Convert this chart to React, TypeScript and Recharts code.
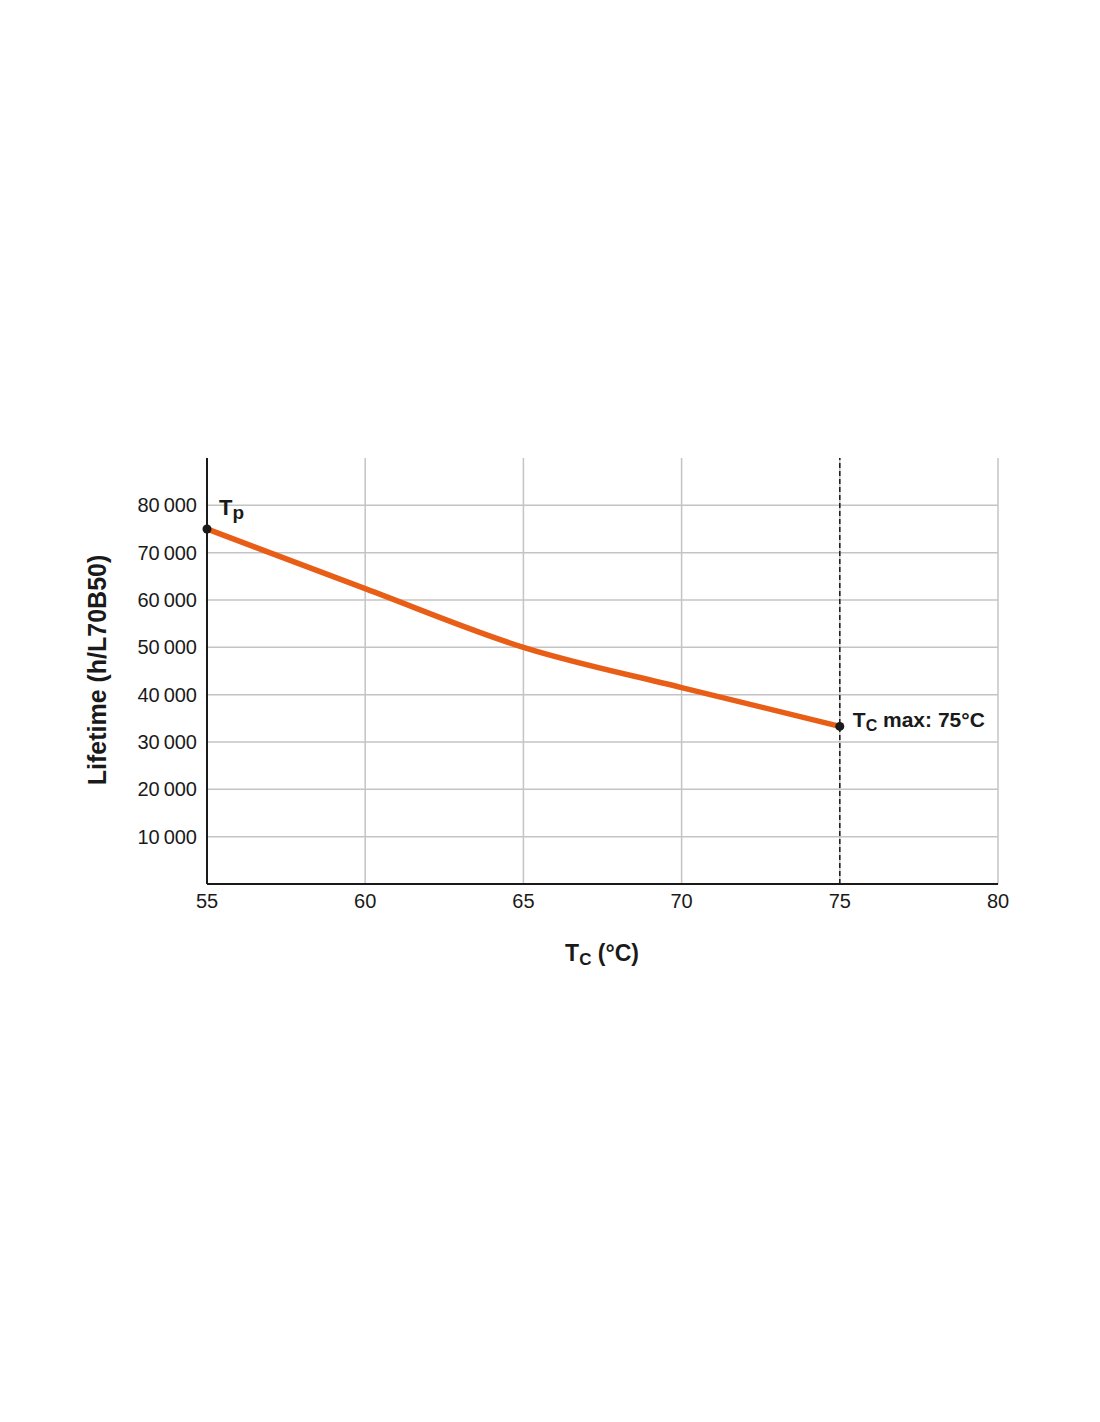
import React from "react";
import { LineChart, Line, XAxis, YAxis, CartesianGrid, ReferenceLine } from "recharts";

// Case temperature (°C) and lifetime (h)
const temps = [55, 60, 65, 70, 75];
const lifetimes = [75000, 62400, 50000, 41500, 33300];

const xTicks = [55, 60, 65, 70, 75, 80];
const yTicks = [10000, 20000, 30000, 40000, 50000, 60000, 70000, 80000];
const yMax = 90000;
const tcMax = 75;

const data = temps.map((t, i) => ({ t, life: lifetimes[i] }));

const INK = "#1a1a1a";
const ORANGE = "#e85e16";
const FONT = "'Liberation Sans', Arial, Helvetica, sans-serif";

const W = 1084;
const H = 1000;
const M = { top: 450, right: 94, bottom: 94, left: 119 };
const X_AXIS_H = 30;

const fmt = (v: number) => {
  const s = String(v);
  return s.slice(0, s.length - 3) + "\u2009" + s.slice(-3);
};

// only the tick values get a horizontal grid line (no line on the top edge)
const hGrid = (args: any) => {
  const sc = args?.yAxis?.scale;
  if (typeof sc === "function") return yTicks.map((t) => sc(t));
  const top = args?.offset?.top ?? M.top;
  const h = args?.offset?.height ?? H - M.top - M.bottom - X_AXIS_H;
  return yTicks.map((t) => top + h * (1 - t / yMax));
};

const renderDot = (props: any) => {
  const { cx, cy, index } = props;
  if (index === 0) {
    return (
      <g key="dot-tp">
        <circle cx={cx} cy={cy} r={4.5} fill={INK} />
        <text x={cx + 12} y={cy - 14} fill={INK} fontFamily={FONT} fontWeight={700} fontSize={22}>
          T<tspan fontSize={19} dy={4}>p</tspan>
        </text>
      </g>
    );
  }
  if (index === data.length - 1) {
    return (
      <g key="dot-tc">
        <circle cx={cx} cy={cy} r={4.5} fill={INK} />
        <text x={cx + 13} y={cy + 1} fill={INK} fontFamily={FONT} fontWeight={700} fontSize={21}>
          T<tspan fontSize={16} dy={4}>C</tspan>
          <tspan dy={-4}> max: 75°C</tspan>
        </text>
      </g>
    );
  }
  return <g key={`dot-${index}`} />;
};

const App: React.FC = () => (
  <div style={{ position: "relative", width: W, height: H, fontFamily: FONT }}>
    <LineChart width={W} height={H} data={data} margin={M}>
      <CartesianGrid stroke="#c4c4c4" strokeWidth={1.5} horizontalCoordinatesGenerator={hGrid} />
      <XAxis
        dataKey="t"
        type="number"
        domain={[55, 80]}
        ticks={xTicks}
        height={X_AXIS_H}
        tickLine={false}
        tickMargin={4}
        axisLine={{ stroke: INK, strokeWidth: 2 }}
        tick={{ fill: INK, fontSize: 20, fontFamily: FONT }}
        interval={0}
      />
      <YAxis
        type="number"
        domain={[0, yMax]}
        ticks={yTicks}
        width={80}
        tickLine={false}
        tickMargin={4}
        tickFormatter={fmt}
        axisLine={{ stroke: INK, strokeWidth: 2 }}
        tick={{ fill: INK, fontSize: 20, fontFamily: FONT }}
        interval={0}
      />
      <ReferenceLine x={tcMax} stroke={INK} strokeWidth={1.5} strokeDasharray="5 3" />
      <Line
        type="monotone"
        dataKey="life"
        stroke={ORANGE}
        strokeWidth={5.5}
        dot={renderDot}
        activeDot={false}
        isAnimationActive={false}
      />
    </LineChart>

    {/* Axis titles */}
    <div
      style={{
        position: "absolute",
        left: 89,
        top: 662,
        transform: "translate(-50%, -50%) rotate(-90deg)",
        whiteSpace: "nowrap",
        fontWeight: 700,
        fontSize: 25,
        color: INK,
      }}
    >
      Lifetime (h/L70B50)
    </div>
    <div
      style={{
        position: "absolute",
        left: 594,
        top: 932,
        transform: "translateX(-50%)",
        whiteSpace: "nowrap",
        fontWeight: 700,
        fontSize: 23,
        color: INK,
      }}
    >
      T<sub style={{ fontSize: 17, verticalAlign: "-4px" }}>C</sub> (°C)
    </div>
  </div>
);

export default App;
